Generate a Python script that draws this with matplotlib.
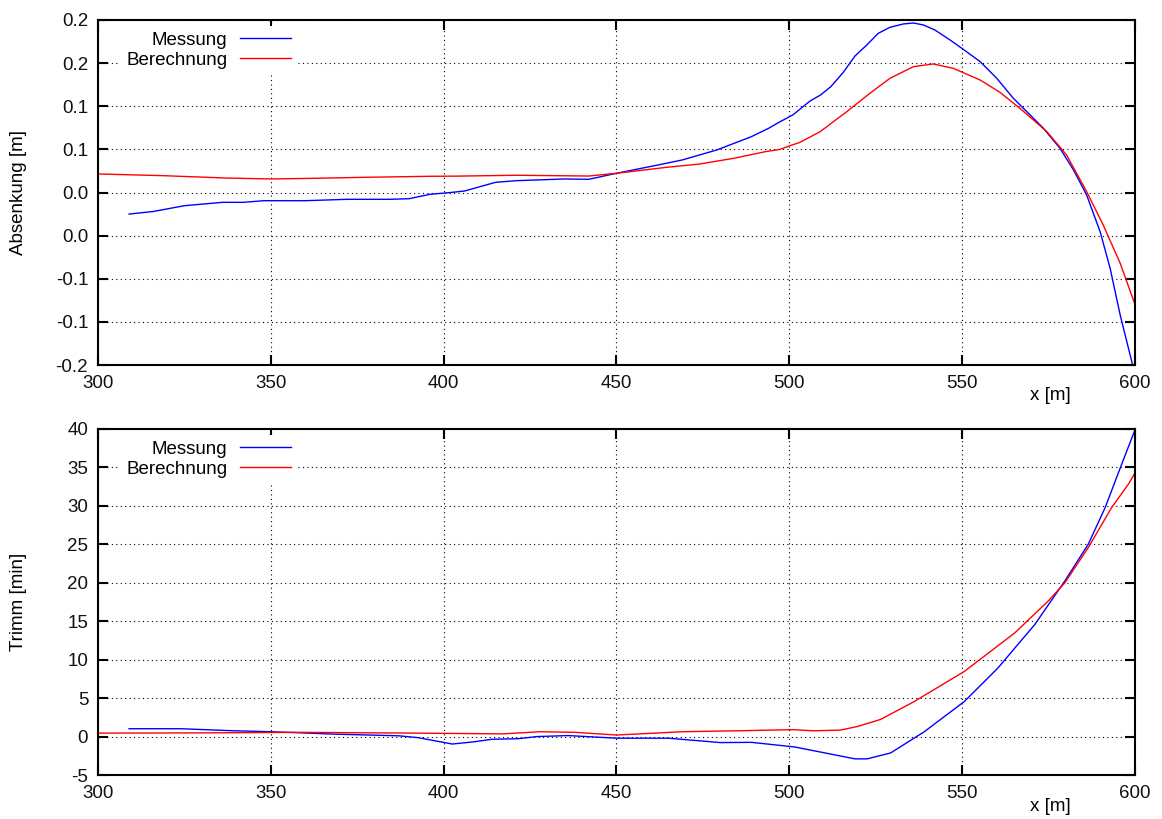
import numpy as np
import matplotlib
matplotlib.use("Agg")
import matplotlib.pyplot as plt

plt.rcParams["font.family"] = ["Liberation Sans", "DejaVu Sans"]
plt.rcParams["font.size"] = 13.5
plt.rcParams["axes.unicode_minus"] = False

# Absenkung: Messung
x_abs_mess = [309, 316, 325, 336, 342, 348, 360, 372, 384, 390, 396, 402, 406,
              415, 421, 435, 442, 450, 462, 469, 479, 489, 494, 497, 501, 506,
              509, 512, 515.6, 519, 522.4, 525.7, 529.1, 533, 535.9, 538.8,
              542.1, 546.5, 550.3, 555.2, 560, 564.8, 568.7, 573.5, 578.3,
              582.2, 586, 589.9, 592.8, 595.7, 599.3]
y_abs_mess = [-0.025, -0.022, -0.0153, -0.0114, -0.0114, -0.0095, -0.0095,
              -0.0079, -0.0079, -0.0072, -0.0021, 0.0, 0.0017, 0.0118, 0.0137,
              0.0157, 0.0153, 0.0223, 0.0319, 0.0377, 0.0493, 0.0647, 0.0744,
              0.0814, 0.0899, 0.1061, 0.113, 0.1227, 0.1393, 0.1583, 0.171,
              0.1845, 0.1915, 0.1954, 0.1965, 0.1942, 0.1884, 0.1768, 0.166,
              0.1517, 0.1324, 0.1092, 0.0937, 0.0744, 0.0512, 0.0261, -0.0029,
              -0.0454, -0.0879, -0.142, -0.2]

# Absenkung: Berechnung
x_abs_ber = [300, 319, 337, 350, 363, 377, 396, 404, 421, 442, 450, 464.5,
             474, 484, 493, 497.3, 500, 503, 508.9, 516.6, 523.3, 529.1,
             535.9, 541.6, 547.4, 555.2, 560.9, 566.7, 574.5, 580.2, 586,
             590.8, 595.7, 600]
y_abs_ber = [0.0215, 0.0195, 0.0168, 0.0157, 0.0165, 0.0176, 0.0188, 0.019,
             0.02, 0.0191, 0.0223, 0.0292, 0.033, 0.0397, 0.0473, 0.05, 0.054,
             0.058, 0.0705, 0.0937, 0.115, 0.1324, 0.1459, 0.149, 0.144,
             0.1304, 0.1162, 0.0976, 0.0705, 0.0435, 0.001, -0.0377, -0.082,
             -0.13]

# Trimm: Messung
x_trim_mess = [309, 324, 339, 350, 358, 367.5, 387, 392.6, 402.5, 409, 414,
               421.5, 427, 436, 450, 465, 480, 489, 501.5, 510, 519, 522.5,
               529.3, 539, 550.6, 560.3, 571, 579.7, 586.5, 591.4, 596.2, 600]
y_trim_mess = [1.02, 1.02, 0.76, 0.63, 0.5, 0.33, 0.1, -0.14, -0.97, -0.67,
               -0.35, -0.28, 0.0, 0.13, -0.21, -0.21, -0.78, -0.75, -1.35,
               -2.1, -2.9, -2.9, -2.13, 0.62, 4.55, 8.9, 14.57, 20.24, 25.04,
               29.83, 35.5, 39.9]

# Trimm: Berechnung
x_trim_ber = [300, 330, 358, 391.7, 417, 428, 438, 450, 469, 486, 501, 507,
              514.7, 519.6, 526.4, 536.1, 550.6, 565.2, 574.9, 579.7, 586.5,
              593.3, 598.2, 600]
y_trim_ber = [0.45, 0.48, 0.55, 0.45, 0.35, 0.63, 0.55, 0.2, 0.63, 0.76, 0.9,
              0.75, 0.84, 1.3, 2.23, 4.55, 8.47, 13.48, 17.63, 20.0, 24.6,
              29.83, 32.9, 34.3]

x_ticks = np.arange(300, 601, 50)
abs_ticks = np.linspace(-0.2, 0.2, 9)
abs_labels = ["-0.2", "-0.1", "-0.1", "0.0", "0.0", "0.1", "0.1", "0.2", "0.2"]
trim_ticks = np.arange(-5, 41, 5)


def style_axes(ax):
    for s in ax.spines.values():
        s.set_linewidth(1.5)
    ax.tick_params(direction="in", length=7, width=1.5, top=True, right=True,
                   labeltop=False, labelright=False, pad=7, labelsize=13.5,
                   colors="black", labelcolor="#111111")
    ax.grid(True, color="black", linestyle=(0, (1, 3)), linewidth=0.8)
    ax.set_xlim(300, 600)
    ax.set_xticks(x_ticks)
    ax.set_xlabel("x [m]")
    ax.xaxis.set_label_coords(0.918, -0.065)
    ax.yaxis.set_label_coords(-0.0685, 0.5)
    leg = ax.legend(loc="upper right", bbox_to_anchor=(0.1915, 0.982),
                    markerfirst=False, frameon=True, fancybox=False,
                    framealpha=1, edgecolor="none", facecolor="white",
                    handlelength=2.7, handletextpad=0.7, labelspacing=0.15,
                    borderpad=0.3, borderaxespad=0.0, fontsize=13.5)
    leg.set_zorder(5)


fig = plt.figure(figsize=(11.62, 8.19), dpi=100)
ax1 = fig.add_axes([0.0843, 0.5543, 0.8925, 0.4213])
ax2 = fig.add_axes([0.0843, 0.0537, 0.8925, 0.4225])

ax1.plot(x_abs_mess, y_abs_mess, color="#0000ff", lw=1.0, label="Messung")
ax1.plot(x_abs_ber, y_abs_ber, color="#ff0000", lw=1.0, label="Berechnung")
ax1.set_ylim(-0.2, 0.2)
ax1.set_yticks(abs_ticks)
ax1.set_yticklabels(abs_labels)
ax1.set_ylabel("Absenkung [m]")
style_axes(ax1)

ax2.plot(x_trim_mess, y_trim_mess, color="#0000ff", lw=1.0, label="Messung")
ax2.plot(x_trim_ber, y_trim_ber, color="#ff0000", lw=1.0, label="Berechnung")
ax2.set_ylim(-5, 40)
ax2.set_yticks(trim_ticks)
ax2.set_ylabel("Trimm [min]")
style_axes(ax2)

fig.savefig("out.png", dpi=100)
